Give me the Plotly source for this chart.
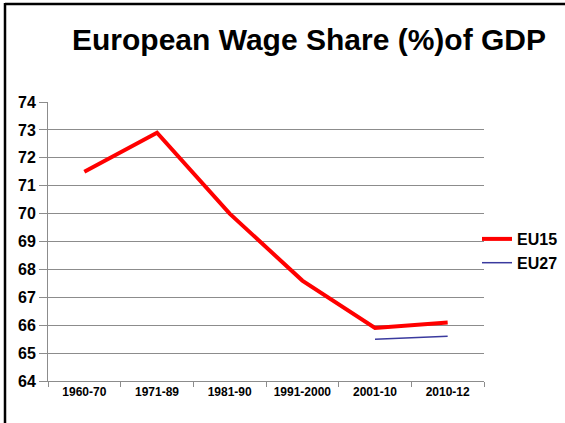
import plotly.graph_objects as go

categories = ["1960-70", "1971-89", "1981-90", "1991-2000", "2001-10", "2010-12"]
eu15 = [71.5, 72.9, 70.0, 67.6, 65.9, 66.1]
eu27 = [None, None, None, None, 65.5, 65.6]
y_ticks = list(range(64, 75))

W, H = 565, 423
L, R, T, B = 48, 0, 102, 42
PLOT_RIGHT = 484
pw = W - L - R
ph = H - T - B

def px_x(p):
    return (p - L) / pw

def px_y(p):
    return 1 - (p - T) / ph

fig = go.Figure()
fig.add_trace(go.Scatter(x=categories, y=eu15, name="<b>EU15</b>", mode="lines",
                         line=dict(color="#FF0000", width=4)))
fig.add_trace(go.Scatter(x=categories, y=eu27, name="<b>EU27</b>", mode="lines",
                         line=dict(color="#3A3A9E", width=1.5)))

fig.update_layout(
    width=W, height=H,
    margin=dict(l=L, r=R, t=T, b=B),
    paper_bgcolor="white", plot_bgcolor="white",
    font=dict(family="Arial, Liberation Sans, sans-serif", color="black"),
    title=dict(text="<b>European Wage Share (%)of GDP</b>",
               font=dict(size=30, color="black"),
               x=309 / W, xanchor="center",
               y=1 - 39 / H, yanchor="middle"),
    showlegend=True,
    legend=dict(x=px_x(563), y=px_y(222), xanchor="right", yanchor="top",
                bgcolor="rgba(0,0,0,0)", font=dict(size=16),
                itemwidth=30, tracegroupgap=0, traceorder="normal"),
    xaxis=dict(type="category", range=[-0.5, 5.5], showgrid=False,
               domain=[0, px_x(PLOT_RIGHT)],
               showline=True, linecolor="#8c8c8c", linewidth=1,
               ticks="outside", tickson="boundaries", ticklen=5, tickcolor="#8c8c8c",
               tickfont=dict(size=12), tickvals=categories,
               ticktext=["<b>%s</b>" % c for c in categories]),
    yaxis=dict(range=[64, 74], tickvals=y_ticks,
               ticktext=["<b>%d</b>" % v for v in y_ticks],
               showgrid=True, gridcolor="#8c8c8c", gridwidth=1,
               showline=True, linecolor="#8c8c8c", linewidth=1,
               ticks="outside", ticklen=8, tickcolor="#8c8c8c",
               tickfont=dict(size=16), zeroline=False),
    shapes=[
        dict(type="line", xref="paper", yref="paper",
             x0=px_x(5), x1=px_x(566), y0=px_y(4), y1=px_y(4),
             line=dict(color="black", width=2.5)),
        dict(type="line", xref="paper", yref="paper",
             x0=px_x(5), x1=px_x(5), y0=px_y(3), y1=px_y(424),
             line=dict(color="black", width=2.5)),
    ],
)
fig.write_html("out.html", config={"displayModeBar": False},
               post_script="document.body.style.margin='0';document.body.style.overflow='hidden';")
